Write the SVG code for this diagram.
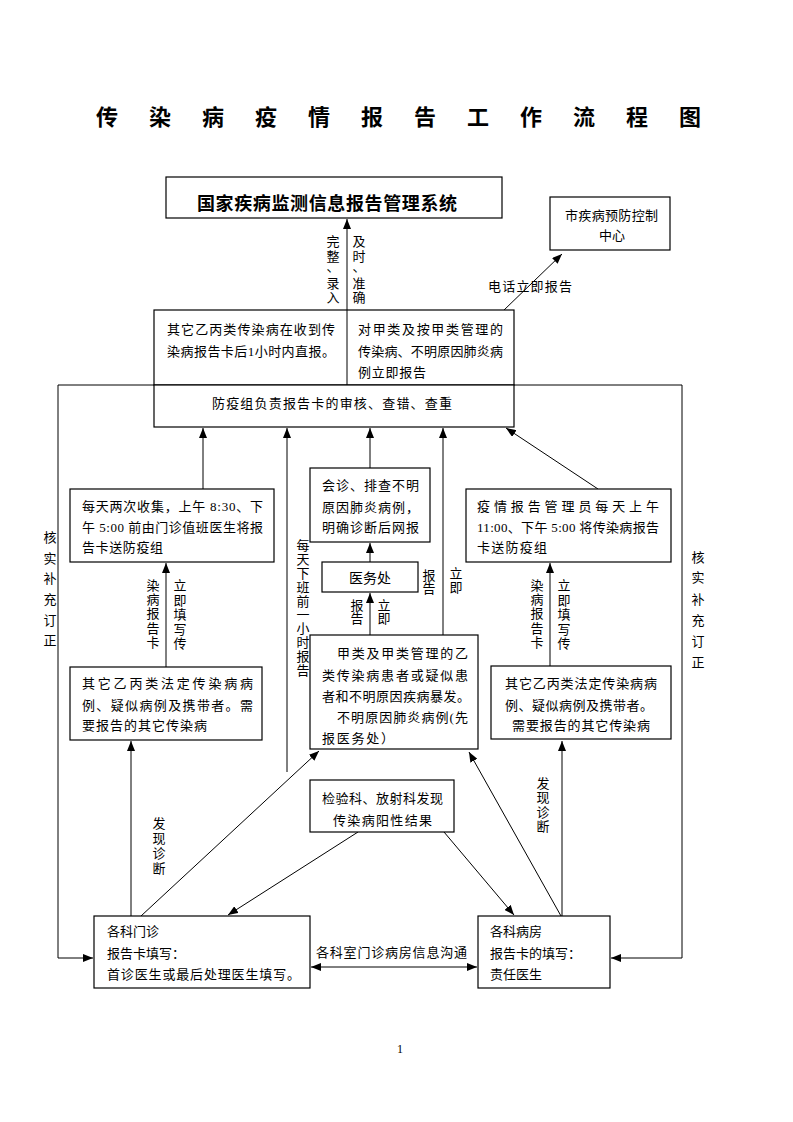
<svg xmlns="http://www.w3.org/2000/svg" width="793" height="1122" viewBox="0 0 793 1122">
<style>
.bx{fill:#fff;stroke:#000;stroke-width:1.2}
.t{font-family:"Liberation Serif","Noto Sans CJK SC",serif;font-size:13px;fill:#000}
.v{font-family:"Liberation Serif","Noto Sans CJK SC",serif;font-size:13px;fill:#000;text-anchor:middle}
.c{stroke:#000;stroke-width:1;fill:none}
.a{marker-end:url(#ah)}
.ttl{font-family:"Noto Sans CJK SC",sans-serif;font-size:22px;font-weight:bold;fill:#000}
</style>
<defs>
<marker id="ah" viewBox="0 0 10 8" refX="10" refY="4" markerWidth="10" markerHeight="8" markerUnits="userSpaceOnUse" orient="auto-start-reverse">
<path d="M0,0 L10,4 L0,8 z" fill="#000"/>
</marker>
</defs>
<rect width="793" height="1122" fill="#fff"/>
<text class="ttl" x="96 149 202 255 308 361 414 467 520 573 626 679" y="125">传染病疫情报告工作流程图</text>

<g id="connectors">
<path class="c a" d="M347,310 V219"/>
<path class="c a" d="M503,311 L562,254"/>
<path class="c" d="M58,385 H682"/>
<path class="c a" d="M58,385 V958 H93"/>
<path class="c a" d="M682,385 V958 H611"/>
<path class="c a" d="M203,489 V428"/>
<path class="c a" d="M287,772 V428"/>
<path class="c a" d="M370,468 V428"/>
<path class="c a" d="M443,635 V428"/>
<path class="c a" d="M598,489 L506,428"/>
<path class="c a" d="M370,562 V543"/>
<path class="c a" d="M370,635 V593"/>
<path class="c a" d="M166,667 V563"/>
<path class="c a" d="M550,666 V563"/>
<path class="c a" d="M131,916 V741"/>
<path class="c a" d="M562,916 V741"/>
<path class="c a" d="M141,916 L319,751"/>
<path class="c a" d="M561,916 L469,752"/>
<path class="c a" d="M358,832 L228,915"/>
<path class="c a" d="M444,832 L514,915"/>
<path class="c a" d="M311,967 H477" marker-start="url(#ah)"/>
</g>

<g id="labels">
<text class="v" x="333 333 333 333 333" y="246 261 271 288 302">完整、录入</text>
<text class="v" x="359 359 359 359 359" y="246 261 271 288 302">及时、准确</text>
<text class="t" x="488" y="291" textLength="84">电话立即报告</text>
<text class="v" x="50 50 50 50 50 50" y="542 563 583 604 625 645">核实补充订正</text>
<text class="v" x="698 698 698 698 698 698" y="562 582 604 625 646 667">核实补充订正</text>
<text class="v" x="303 303 303 303 303 303 303 303 303 303" y="550 564 578 592 606 619 633 647 661 675">每天下班前一小时报告</text>
<text class="v" x="153 153 153 153 153" y="590 604 618 633 647">染病报告卡</text>
<text class="v" x="180 180 180 180 180" y="590 605 619 634 648">立即填写传</text>
<text class="v" x="537 537 537 537 537" y="590 604 618 633 647">染病报告卡</text>
<text class="v" x="564 564 564 564 564" y="590 605 619 634 648">立即填写传</text>
<text class="v" x="159 159 159 159" y="828 843 858 873">发现诊断</text>
<text class="v" x="543 543 543 543" y="788 802 817 831">发现诊断</text>
<text class="v" x="429 429" y="580 593">报告</text>
<text class="v" x="456 456" y="578 592">立即</text>
<text class="v" x="357 357" y="610 623">报告</text>
<text class="v" x="384 384" y="610 623">立即</text>
<text class="t" x="316" y="957" textLength="151">各科室门诊病房信息沟通</text>
</g>

<g id="nodeA">
<rect class="bx" x="166" y="177" width="336" height="41"/>
<text x="197" y="210" textLength="260" style="font-family:'Noto Sans CJK SC',sans-serif;font-size:18px;font-weight:bold">国家疾病监测信息报告管理系统</text>
</g>
<g id="nodeB">
<rect class="bx" x="550" y="197" width="120" height="53"/>
<text class="t" x="565" y="220" textLength="93">市疾病预防控制</text>
<text class="v" x="612" y="240">中心</text>
</g>
<g id="nodeC">
<rect class="bx" x="154" y="310" width="360" height="75"/>
<line class="c" x1="347" y1="310" x2="347" y2="385"/>
<text class="t" x="167" y="334" textLength="168">其它乙丙类传染病在收到传</text>
<text class="t" x="167" y="356" textLength="168">染病报告卡后1小时内直报。</text>
<text class="t" x="358" y="334" textLength="145">对甲类及按甲类管理的</text>
<text class="t" x="358" y="356" textLength="145">传染病、不明原因肺炎病</text>
<text class="t" x="358" y="377" textLength="68">例立即报告</text>
</g>
<g id="nodeD">
<rect class="bx" x="154" y="385" width="360" height="42"/>
<text class="t" x="212" y="408" textLength="240">防疫组负责报告卡的审核、查错、查重</text>
</g>
<g id="nodeE">
<rect class="bx" x="70" y="489" width="204" height="73"/>
<text class="t" x="82" y="511" textLength="181">每天两次收集，上午 8:30、下</text>
<text class="t" x="82" y="532" textLength="181">午 5:00 前由门诊值班医生将报</text>
<text class="t" x="82" y="552" textLength="81">告卡送防疫组</text>
</g>
<g id="nodeF">
<rect class="bx" x="310" y="468" width="120" height="74"/>
<text class="t" x="322" y="490" textLength="97">会诊、排查不明</text>
<text class="t" x="322" y="512" textLength="97">原因肺炎病例，</text>
<text class="t" x="322" y="532" textLength="97">明确诊断后网报</text>
</g>
<g id="nodeG">
<rect class="bx" x="322" y="562" width="96" height="30"/>
<text class="v" x="370" y="583" style="font-size:14px">医务处</text>
</g>
<g id="nodeH">
<rect class="bx" x="310" y="635" width="168" height="114"/>
<text class="t" x="337" y="658" textLength="131">甲类及甲类管理的乙</text>
<text class="t" x="322" y="680" textLength="146">类传染病患者或疑似患</text>
<text class="t" x="322" y="701" textLength="148">者和不明原因疾病暴发。</text>
<text class="t" x="337" y="722" textLength="131">不明原因肺炎病例(先</text>
<text class="t" x="322" y="743" textLength="72">报医务处）</text>
</g>
<g id="nodeI">
<rect class="bx" x="70" y="667" width="192" height="73"/>
<text class="t" x="82" y="688" textLength="171">其它乙丙类法定传染病病</text>
<text class="t" x="82" y="710" textLength="171">例、疑似病例及携带者。需</text>
<text class="t" x="82" y="730" textLength="125">要报告的其它传染病</text>
</g>
<g id="nodeJ">
<rect class="bx" x="491" y="666" width="180" height="73"/>
<text class="t" x="505" y="688" textLength="152">其它乙丙类法定传染病病</text>
<text class="t" x="505" y="710" textLength="148">例、疑似病例及携带者。</text>
<text class="t" x="512" y="730" textLength="138">需要报告的其它传染病</text>
</g>
<g id="nodeK">
<rect class="bx" x="466" y="489" width="205" height="73"/>
<text class="t" x="477" y="511" textLength="182">疫情报告管理员每天上午</text>
<text class="t" x="477" y="532" textLength="182">11:00、下午 5:00 将传染病报告</text>
<text class="t" x="477" y="552" textLength="70">卡送防疫组</text>
</g>
<g id="nodeL">
<rect class="bx" x="310" y="780" width="144" height="52"/>
<text class="t" x="322" y="803" textLength="121">检验科、放射科发现</text>
<text class="t" x="333" y="825" textLength="99">传染病阳性结果</text>
</g>
<g id="nodeM">
<rect class="bx" x="94" y="916" width="216" height="72"/>
<text class="t" x="107" y="936">各科门诊</text>
<text class="t" x="107" y="958">报告卡填写：</text>
<text class="t" x="107" y="979" textLength="193">首诊医生或最后处理医生填写。</text>
</g>
<g id="nodeN">
<rect class="bx" x="478" y="916" width="132" height="72"/>
<text class="t" x="490" y="936">各科病房</text>
<text class="t" x="490" y="958">报告卡的填写：</text>
<text class="t" x="490" y="979">责任医生</text>
</g>
<text x="397" y="1053" style="font-family:'Liberation Serif',serif;font-size:12px">1</text>
</svg>
